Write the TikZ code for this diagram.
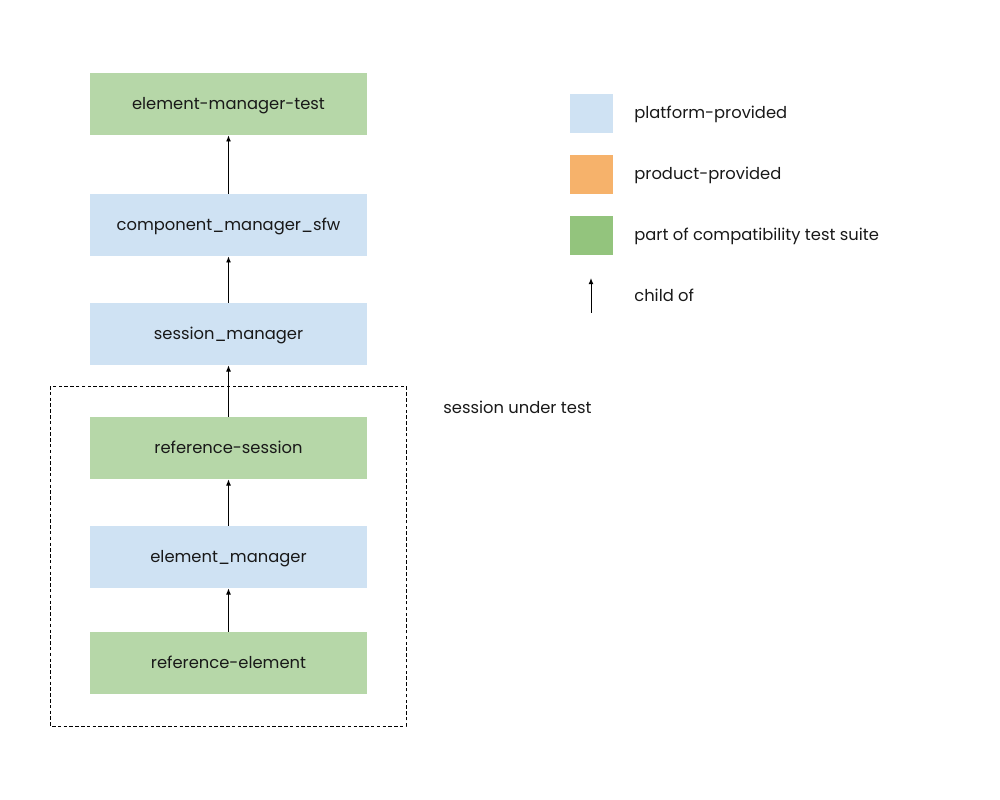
\documentclass[tikz,border=0pt]{standalone}
\usepackage{fontspec}
\setmainfont{Poppins}
\usetikzlibrary{arrows.meta}
\definecolor{platform}{HTML}{CFE2F3}
\definecolor{product}{HTML}{F6B26B}
\definecolor{suite}{HTML}{B6D7A8}
\definecolor{suitekey}{HTML}{93C47D}
\begin{document}
\begin{tikzpicture}[x=0.02cm,y=-0.02cm,
  font=\fontsize{9.3pt}{11pt}\selectfont,
  box/.style={minimum width=277*0.02cm,minimum height=62*0.02cm,inner sep=0pt,
    text height=6.8pt,text depth=0pt,text=black!90},
  platbox/.style={box,fill=platform},
  suitebox/.style={box,fill=suite},
  swatch/.style={minimum width=43*0.02cm,minimum height=39*0.02cm,inner sep=0pt},
  legendtext/.style={anchor=west,inner sep=0pt,text height=6.8pt,text depth=0pt,text=black!90},
  childof/.style={-{Latex[length=3.5pt,width=2.8pt]},line width=0.55pt}]
\useasboundingbox (0,0) rectangle (1000,800);
% stack of components
\node[suitebox] (emt) at (228.5,104) {element-manager-test};
\node[platbox] (cms) at (228.5,225) {component\_manager\_sfw};
\node[platbox] (sm) at (228.5,334) {session\_manager};
\node[suitebox] (rs) at (228.5,448) {reference-session};
\node[platbox] (em) at (228.5,557) {element\_manager};
\node[suitebox] (re) at (228.5,663) {reference-element};
\draw[childof] (cms) -- (emt);
\draw[childof] (sm) -- (cms);
\draw[childof] (rs) -- (sm);
\draw[childof] (em) -- (rs);
\draw[childof] (re) -- (em);
% session under test
\draw[line width=0.5pt,dash pattern=on 2pt off 1.3pt] (50,386) rectangle (406,726);
\node[legendtext] (sut) at (443,408) {session under test};
% legend
\node[swatch,fill=platform] (k1) at (591.5,113.5) {};
\node[swatch,fill=product] (k2) at (591.5,174.5) {};
\node[swatch,fill=suitekey] (k3) at (591.5,235.5) {};
\coordinate (k4a) at (591,313);
\coordinate (k4b) at (591,278);
\draw[childof] (k4a) -- (k4b);
\node[legendtext] (t1) at (634,113) {platform-provided};
\node[legendtext] (t2) at (634,174) {product-provided};
\node[legendtext] (t3) at (634,235) {part of compatibility test suite};
\node[legendtext] (t4) at (634,296) {child of};
\end{tikzpicture}
\end{document}
